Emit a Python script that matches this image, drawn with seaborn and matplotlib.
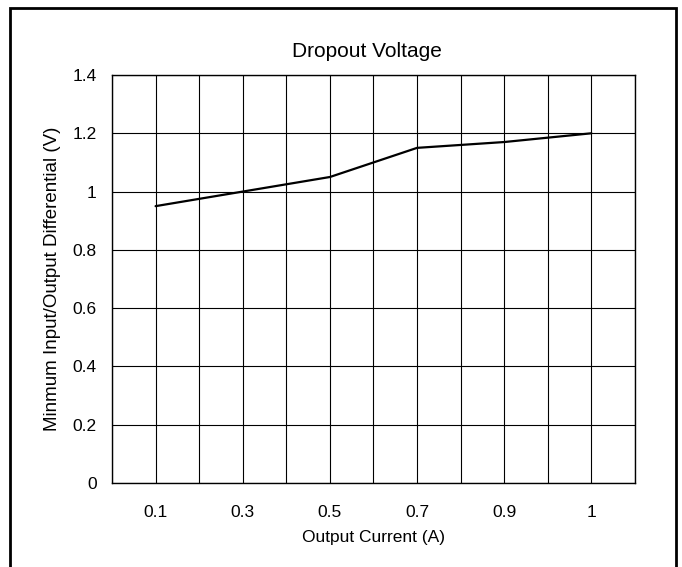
import numpy as np
import matplotlib
matplotlib.use("Agg")
import matplotlib.pyplot as plt
import seaborn as sns
from matplotlib.patches import Rectangle

# Dropout voltage vs output current
current_labels = ["0.1", "0.3", "0.5", "0.7", "0.9", "1"]
dropout_v = [0.95, 1.0, 1.05, 1.15, 1.17, 1.2]
y_ticks = [0, 0.2, 0.4, 0.6, 0.8, 1, 1.2, 1.4]
y_tick_labels = ["0", "0.2", "0.4", "0.6", "0.8", "1", "1.2", "1.4"]

sns.set_style("white")
plt.rcParams["font.family"] = ["Liberation Sans", "DejaVu Sans"]
plt.rcParams["text.color"] = "black"
plt.rcParams["xtick.color"] = "black"
plt.rcParams["ytick.color"] = "black"
plt.rcParams["axes.labelcolor"] = "black"

fig = plt.figure(figsize=(6.82, 5.67), dpi=100)
ax = fig.add_axes([112 / 682, 84 / 567, 523 / 682, 408 / 567])

x_pos = np.arange(len(current_labels))
sns.lineplot(x=x_pos, y=dropout_v, ax=ax, color="black", linewidth=1.6)

ax.set_xlim(-0.5, len(current_labels) - 0.5)
ax.set_ylim(0, 1.4)
ax.set_xticks(x_pos)
ax.set_xticklabels(current_labels)
ax.set_xticks(np.arange(-0.5, len(current_labels), 1.0), minor=True)
ax.set_yticks(y_ticks)
ax.set_yticklabels(y_tick_labels)
ax.tick_params(axis="both", which="both", length=0, labelsize=12.5)
ax.tick_params(axis="x", pad=16)
ax.tick_params(axis="y", pad=11)

ax.grid(True, which="both", color="black", linewidth=0.8)
ax.set_axisbelow(True)
for s in ax.spines.values():
    s.set_color("black")
    s.set_linewidth(1.0)

ax.set_title("Dropout Voltage", fontsize=15, pad=13, x=0.487)
ax.set_xlabel("Output Current (A)", fontsize=12.5, labelpad=7)
ax.set_ylabel("Minmum Input/Output Differential (V)", fontsize=13.5, labelpad=8)

# outer frame around the figure
fig.patches.append(Rectangle((10 / 682, -0.05), 666 / 682, 1.05 - 8 / 567,
                             transform=fig.transFigure, fill=False,
                             edgecolor="black", linewidth=2, clip_on=False))

fig.savefig("out.png", dpi=100)
